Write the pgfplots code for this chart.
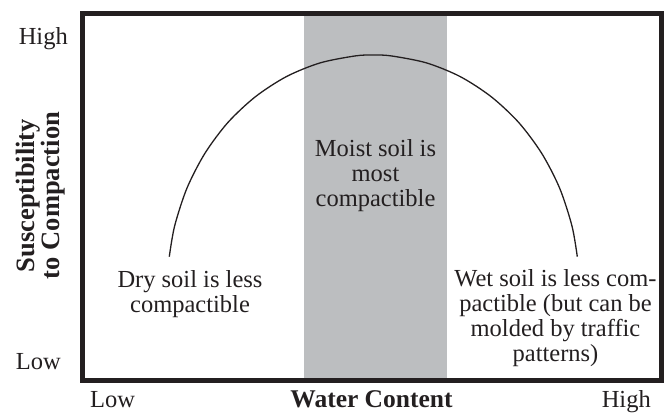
\documentclass[border=0pt]{standalone}
\usepackage{pgfplots}
\pgfplotsset{compat=1.18}
\usepackage{fontspec}
\setmainfont{Liberation Serif}
\definecolor{band}{HTML}{BCBEC0}
\definecolor{ink}{HTML}{231F20}
\tikzset{
  lab/.style={font=\fontsize{24.5}{25}\selectfont, text=ink, inner sep=0pt},
  blab/.style={font=\fontsize{25.5}{26}\selectfont\bfseries, text=ink, inner sep=0pt}
}

\begin{document}
\begin{tikzpicture}
  \begin{axis}[
      x=1pt, y=1pt,
      xmin=82.5, xmax=661.5,
      ymin=32.5, ymax=399,
      xtick=\empty, ytick=\empty,
      axis line style={line width=5pt, ink},
      axis on top,
      clip=false
    ]
    % moist band
    \addplot[fill=band, draw=none] coordinates {
        (304,32.5) (447,32.5) (447,399) (304,399)
      } -- cycle;
    % susceptibility curve
    \addplot[smooth, line width=1.3pt, ink] coordinates {
        (169.3,156.3) (174.6,186.9) (186.9,224.7) (204.8,259.5) (227.8,290.4)
        (255.3,316.2) (286.4,336.4) (320.1,350.1) (355.4,357.1) (373.3,358)
        (391.2,357.1) (426.5,350.1) (460.2,336.4) (491.3,316.2) (518.8,290.4)
        (541.8,259.5) (559.7,224.7) (572.0,186.9) (577.3,156.3)
      };
    \coordinate (bl) at (axis cs:0,0);
    \coordinate (tr) at (axis cs:666,413);
    % axis end labels
    \node[lab, anchor=base east] at (axis cs:68,368) {High};
    \node[lab, anchor=base east] at (axis cs:61,44) {Low};
    \node[lab, anchor=base west] at (axis cs:90,5.5) {Low};
    \node[lab, anchor=base east] at (axis cs:651,5.5) {High};
    \node[blab, anchor=base] at (axis cs:371.5,5.5) {Water Content};
    \node[blab, font=\fontsize{26.5}{27}\selectfont\bfseries, anchor=base, rotate=90] at (axis cs:35,217.5) {Susceptibility};
    \node[blab, font=\fontsize{26.5}{27}\selectfont\bfseries, anchor=base, rotate=90] at (axis cs:60,217.5) {to Compaction};
    % annotations
    \node[lab, anchor=base] at (axis cs:190,126) {Dry soil is less};
    \node[lab, anchor=base] at (axis cs:190,101) {compactible};
    \node[lab, anchor=base] at (axis cs:375.5,257) {Moist soil is};
    \node[lab, anchor=base] at (axis cs:375.5,232) {most};
    \node[lab, anchor=base] at (axis cs:375.5,207) {compactible};
    \node[lab, anchor=base] at (axis cs:555.5,127) {Wet soil is less com-};
    \node[lab, anchor=base] at (axis cs:555.5,102) {pactible (but can be};
    \node[lab, anchor=base] at (axis cs:555.5,77) {molded by traffic};
    \node[lab, anchor=base] at (axis cs:555.5,52) {patterns)};
  \end{axis}
  \pgfresetboundingbox
  \useasboundingbox (bl) rectangle (tr);
\end{tikzpicture}
\end{document}
